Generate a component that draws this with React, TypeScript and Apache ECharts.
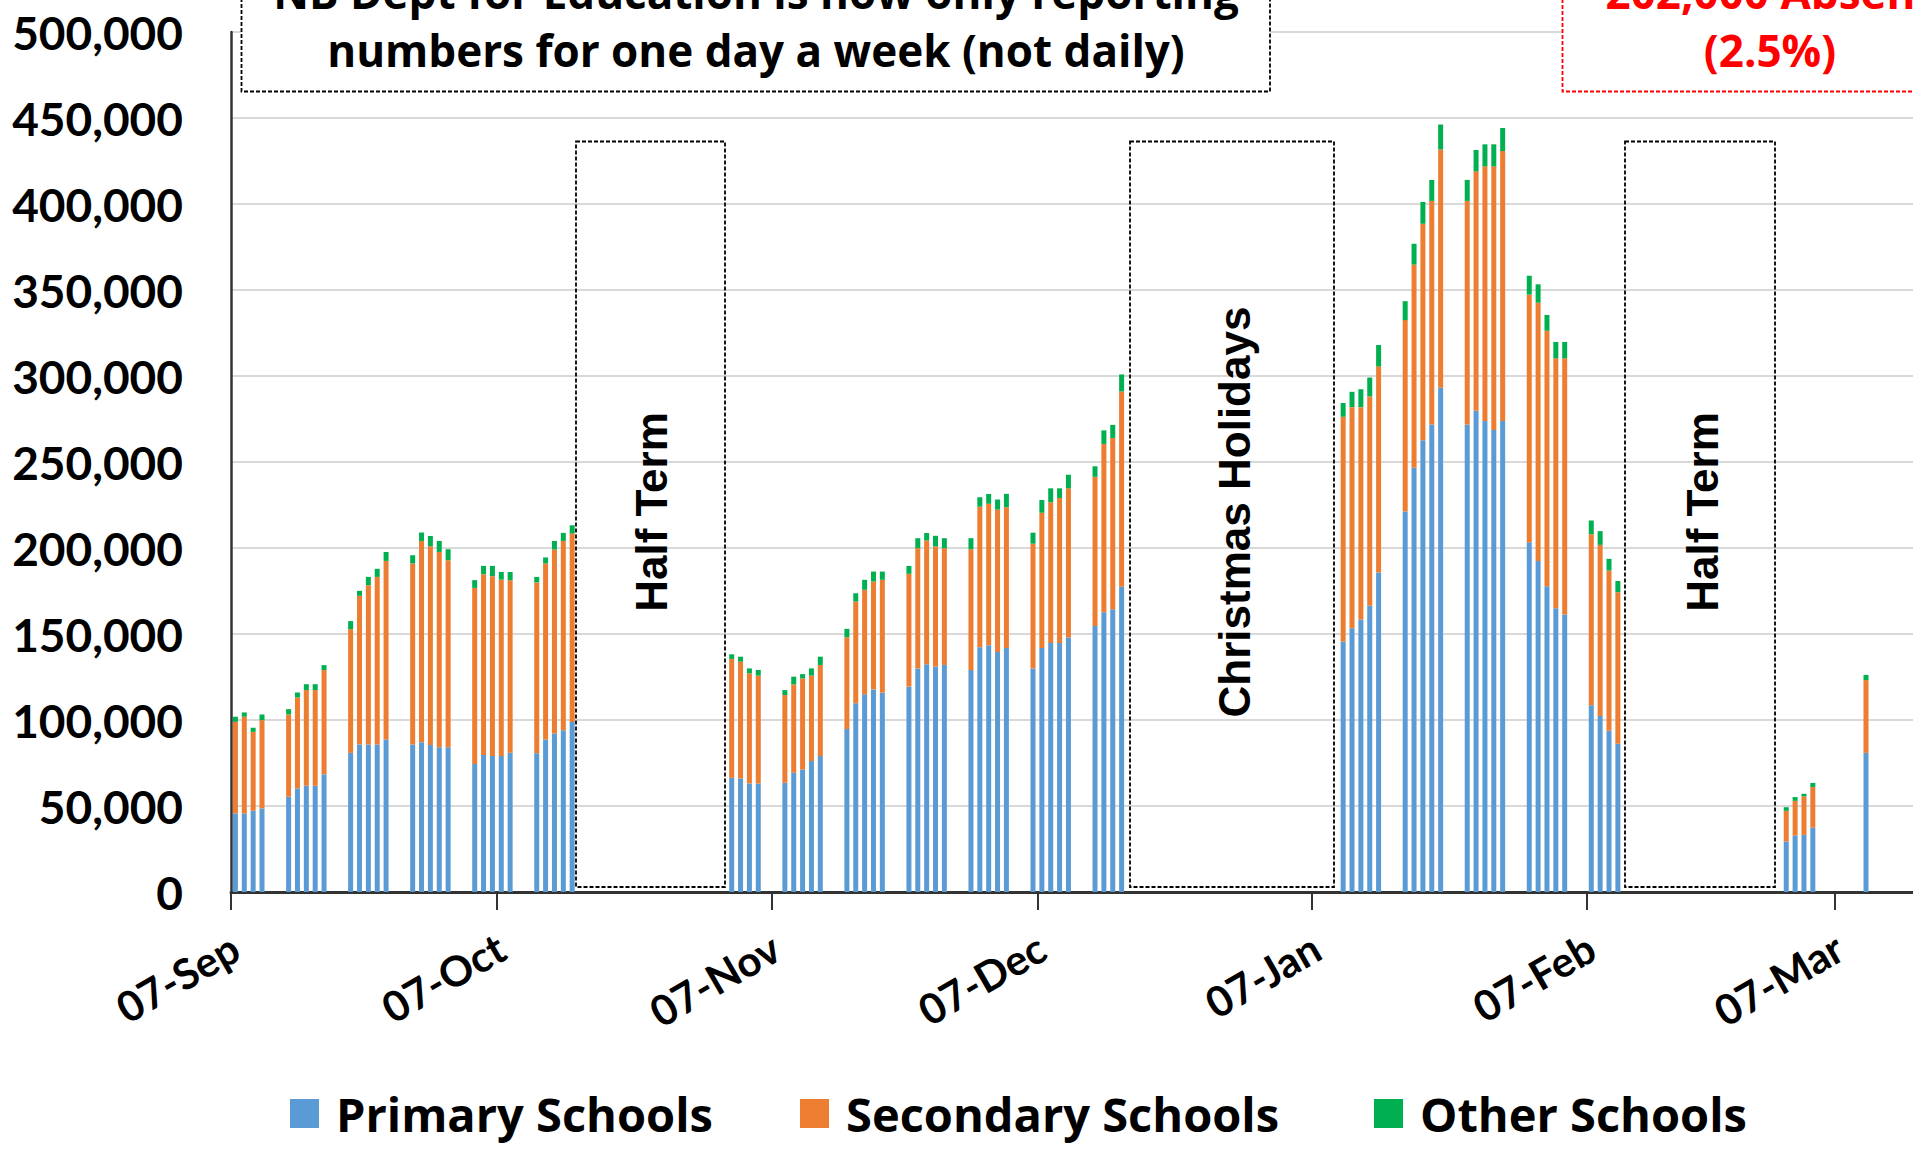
import React, { useEffect, useRef } from "react";
import * as echarts from "echarts";

// ---- data ----
const axisStart = "2021-09-07";
const axisEnd = "2022-03-16";
const monthNames = ["Jan", "Feb", "Mar", "Apr", "May", "Jun", "Jul", "Aug", "Sep", "Oct", "Nov", "Dec"];

const reportDates = [
  "2021-09-07", "2021-09-08", "2021-09-09", "2021-09-10",
  "2021-09-13", "2021-09-14", "2021-09-15", "2021-09-16", "2021-09-17",
  "2021-09-20", "2021-09-21", "2021-09-22", "2021-09-23", "2021-09-24",
  "2021-09-27", "2021-09-28", "2021-09-29", "2021-09-30", "2021-10-01",
  "2021-10-04", "2021-10-05", "2021-10-06", "2021-10-07", "2021-10-08",
  "2021-10-11", "2021-10-12", "2021-10-13", "2021-10-14", "2021-10-15",
  "2021-11-02", "2021-11-03", "2021-11-04", "2021-11-05",
  "2021-11-08", "2021-11-09", "2021-11-10", "2021-11-11", "2021-11-12",
  "2021-11-15", "2021-11-16", "2021-11-17", "2021-11-18", "2021-11-19",
  "2021-11-22", "2021-11-23", "2021-11-24", "2021-11-25", "2021-11-26",
  "2021-11-29", "2021-11-30", "2021-12-01", "2021-12-02", "2021-12-03",
  "2021-12-06", "2021-12-07", "2021-12-08", "2021-12-09", "2021-12-10",
  "2021-12-13", "2021-12-14", "2021-12-15", "2021-12-16",
  "2022-01-10", "2022-01-11", "2022-01-12", "2022-01-13", "2022-01-14",
  "2022-01-17", "2022-01-18", "2022-01-19", "2022-01-20", "2022-01-21",
  "2022-01-24", "2022-01-25", "2022-01-26", "2022-01-27", "2022-01-28",
  "2022-01-31", "2022-02-01", "2022-02-02", "2022-02-03", "2022-02-04",
  "2022-02-07", "2022-02-08", "2022-02-09", "2022-02-10",
  "2022-03-01", "2022-03-02", "2022-03-03", "2022-03-04",
  "2022-03-10",
];

const primarySchools = [
  45700, 45700, 47200, 48600,
  55400, 60200, 61800, 61800, 68400,
  80900, 85800, 85800, 85800, 88700,
  85800, 87000, 85400, 84100, 84100,
  74400, 79600, 79000, 79000, 80900,
  80600, 88700, 92200, 94100, 98900,
  66400, 66000, 63100, 63100,
  63500, 69300, 71200, 76100, 79000,
  94700, 109700, 114900, 117800, 115900,
  119400, 130000, 132400, 131000, 132000,
  129000, 142300, 143500, 139600, 141800,
  130000, 141800, 144800, 144800, 148000,
  154600, 162700, 164400, 177500,
  145700, 153400, 158400, 166400, 185700,
  221200, 246700, 262600, 271800, 293100,
  271800, 279800, 273900, 268600, 273900,
  203400, 192500, 177700, 164900, 161400,
  108600, 102300, 93800, 86200,
  29300, 32800, 33200, 37400,
  80900,
];

const secondarySchools = [
  53200, 56200, 45900, 51300,
  47800, 52900, 55600, 55600, 60600,
  71900, 86400, 92600, 97400, 103800,
  105200, 117100, 115600, 113600, 108800,
  102400, 105200, 104600, 102600, 100400,
  99400, 102300, 106900, 110000, 109500,
  69100, 67900, 64000, 62700,
  51000, 51400, 53000, 49700, 53000,
  53400, 59200, 60800, 62700, 65600,
  65600, 69900, 72000, 69900, 67900,
  70300, 81700, 82200, 82700, 81900,
  72500, 78700, 81800, 84300, 86700,
  86800, 97800, 99600, 113500,
  130600, 128500, 123500, 121700, 119900,
  111300, 118100, 125900, 130000, 138600,
  130000, 139200, 148000, 153300, 156900,
  143900, 150100, 148600, 145400, 148900,
  99400, 99500, 93100, 88100,
  17900, 20200, 22400, 23600,
  42300,
];

const otherSchools = [
  3000, 2500, 2400, 3300,
  3100, 2900, 3400, 3400, 2900,
  4700, 2900, 4800, 4700, 5200,
  4800, 4900, 6000, 6400, 6400,
  4500, 4800, 6000, 4500, 4800,
  3200, 3500, 5000, 4700, 4800,
  2700, 2900, 2900, 3300,
  2900, 4500, 2500, 4200, 4800,
  4900, 4800, 5800, 5800, 4800,
  4600, 5800, 4300, 6200, 5800,
  6400, 5500, 5700, 5900, 7800,
  6400, 7400, 8100, 5600, 7900,
  6100, 7900, 7600, 9900,
  8000, 8900, 10400, 11000, 12400,
  11000, 12100, 12700, 12200, 14500,
  12200, 12400, 12800, 12800, 13400,
  11000, 10700, 9200, 9500, 9500,
  8000, 8000, 6800, 6500,
  2100, 2200, 1500, 2400,
  3000,
];

const seriesNames = ["Primary Schools", "Secondary Schools", "Other Schools"];
const seriesColors = ["#5b9bd5", "#ed7d31", "#00b050"];

const noteLines = ["NB Dept for Education is now only reporting", "numbers for one day a week (not daily)"];
const absentLines = ["202,000 Absent", "(2.5%)"];
const breakLabels = ["Half Term", "Christmas Holidays", "Half Term"];

// ---- helpers ----
function dayLabel(d: Date): string {
  const dd = String(d.getUTCDate()).padStart(2, "0");
  return dd + "-" + monthNames[d.getUTCMonth()];
}

function buildCategories(): { labels: string[]; keys: string[] } {
  const labels: string[] = [];
  const keys: string[] = [];
  const start = new Date(axisStart + "T00:00:00Z");
  const end = new Date(axisEnd + "T00:00:00Z");
  for (let t = start.getTime(); t <= end.getTime(); t += 86400000) {
    const d = new Date(t);
    labels.push(dayLabel(d));
    keys.push(d.toISOString().slice(0, 10));
  }
  return { labels, keys };
}

const FONT = "Lato, 'Open Sans', sans-serif";
const WIDE_FONT = "'Open Sans', Lato, sans-serif";

export default function App() {
  const ref = useRef<HTMLDivElement>(null);

  useEffect(() => {
    document.body.style.margin = "0";
    if (!ref.current) return;
    const chart = echarts.init(ref.current, undefined, { renderer: "svg" });
    const { labels, keys } = buildCategories();
    const idx: Record<string, number> = {};
    reportDates.forEach((d, i) => (idx[d] = i));
    const pick = (arr: number[]) => keys.map((k) => (k in idx ? arr[idx[k]] : "-"));
    const valuesList = [primarySchools, secondarySchools, otherSchools];

    const isSeventh = (_i: number, v: string) => typeof v === "string" && v.slice(0, 3) === "07-";

    const dash = [4, 2];
    const boxStyle = { fill: "none", stroke: "#000", lineWidth: 1.8, lineDash: dash };
    const rotText = (text: string, x: number, y: number) => ({
      type: "text",
      x,
      y,
      rotation: Math.PI / 2,
      z: 20,
      style: {
        text,
        x: 0,
        y: 0,
        fill: "#000",
        font: "bold 44px 'Liberation Sans', Arial, sans-serif",
        textAlign: "center",
        textVerticalAlign: "middle",
        align: "center",
        verticalAlign: "middle",
      },
    });
    const topText = (text: string, x: number, y: number, color: string) => ({
      type: "text",
      x,
      y,
      z: 21,
      style: {
        text,
        x: 0,
        y: 0,
        fill: color,
        font: "bold 44px " + WIDE_FONT,
        textAlign: "center",
        textVerticalAlign: "middle",
        align: "center",
        verticalAlign: "middle",
      },
    });

    const legendPos = [290, 800, 1374];

    chart.setOption({
      animation: false,
      grid: { left: 231, top: 32, width: 1692.6, height: 860 },
      legend: seriesNames.map((n, i) => ({
        data: [n],
        left: legendPos[i],
        top: 1090,
        padding: 0,
        icon: "rect",
        itemWidth: 29,
        itemHeight: 29,
        selectedMode: false,
        textStyle: {
          fontFamily: WIDE_FONT,
          fontWeight: "bold",
          fontSize: 47,
          lineHeight: 47,
          color: "#000",
          padding: [0, 0, 0, 12],
        },
      })),
      xAxis: {
        type: "category",
        data: labels,
        boundaryGap: true,
        axisLine: { lineStyle: { color: "#333", width: 3 } },
        axisTick: { show: true, interval: isSeventh, length: 18, lineStyle: { color: "#333", width: 2 } },
        axisLabel: {
          interval: isSeventh,
          rotate: 30,
          margin: 52,
          fontFamily: FONT,
          fontWeight: "bold",
          fontSize: 42,
          color: "#000",
        },
        splitLine: { show: false },
      },
      yAxis: {
        type: "value",
        min: 0,
        max: 500000,
        interval: 50000,
        axisLine: { show: true, lineStyle: { color: "#333", width: 2.5 } },
        axisTick: { show: false },
        splitLine: { lineStyle: { color: "#d9d9d9", width: 2 } },
        axisLabel: {
          formatter: (v: number) => v.toLocaleString("en-US"),
          fontFamily: FONT,
          fontWeight: "bold",
          fontSize: 46,
          color: "#000",
          margin: 48,
        },
      },
      series: seriesNames.map((n, i) => ({
        name: n,
        type: "bar",
        stack: "total",
        barWidth: 5,
        data: pick(valuesList[i]),
        itemStyle: { color: seriesColors[i] },
      })),
      graphic: [
        { type: "rect", z: 10, shape: { x: 241.5, y: -90, width: 1028.5, height: 181.5 }, style: { fill: "#fff", stroke: "#000", lineWidth: 1.8, lineDash: dash } },
        topText(noteLines[0], 756, -8, "#000"),
        topText(noteLines[1], 756, 50, "#000"),
        { type: "rect", z: 10, shape: { x: 1562.5, y: -90, width: 420, height: 181.5 }, style: { fill: "#fff", stroke: "#ff0000", lineWidth: 1.8, lineDash: dash } },
        topText(absentLines[0], 1770, -8, "#ff0000"),
        topText(absentLines[1], 1770, 50, "#ff0000"),
        { type: "rect", z: 10, shape: { x: 576, y: 141.5, width: 149, height: 745.5 }, style: boxStyle },
        { type: "rect", z: 10, shape: { x: 1130, y: 141.5, width: 204, height: 745.5 }, style: boxStyle },
        { type: "rect", z: 10, shape: { x: 1625, y: 141.5, width: 150, height: 745.5 }, style: boxStyle },
        rotText(breakLabels[0], 651, 512),
        rotText(breakLabels[1], 1234, 512),
        rotText(breakLabels[2], 1702, 512),
      ],
    });
    return () => chart.dispose();
  }, []);

  return (
    <div style={{ position: "fixed", left: 0, top: 0, width: 1913, height: 1149, overflow: "hidden", background: "#fff" }}>
      <div ref={ref} style={{ width: 1960, height: 1149 }} />
    </div>
  );
}
